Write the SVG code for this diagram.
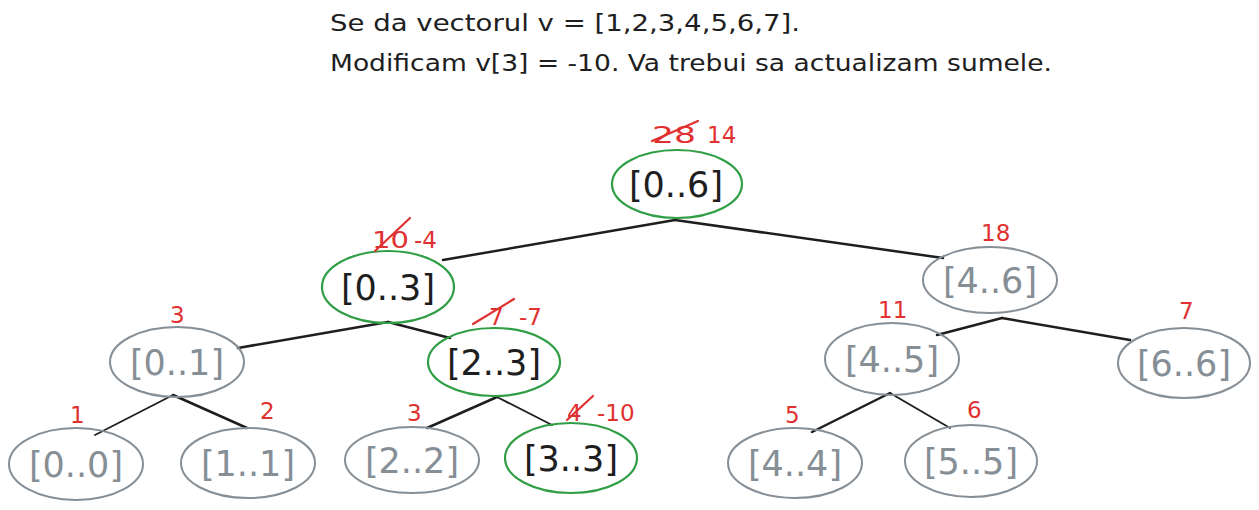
<svg xmlns="http://www.w3.org/2000/svg" width="1259" height="510" viewBox="0 0 1259 510">
<style>
.bg{fill:#ffffff}
.title{font-family:"DejaVu Sans",Verdana,sans-serif;font-size:23px;fill:#1e1e1e}
.ng ellipse{fill:none;stroke:#2f9e44;stroke-width:2.2}
.ny ellipse{fill:none;stroke:#868e96;stroke-width:2}
.lbl{font-family:"DejaVu Sans",Verdana,sans-serif;font-size:35px;text-anchor:middle}
.ng .lbl{fill:#1e1e1e}
.ny .lbl{fill:#868e96}
.num{font-family:"DejaVu Sans",Verdana,sans-serif;font-size:23px;fill:#e03131}
.strike{stroke:#e03131;stroke-width:2.2;stroke-linecap:round;fill:none}
.edge{stroke:#1e1e1e;stroke-width:2.5;stroke-linecap:round;fill:none}
.thin{stroke-width:1.8}
</style>
<rect class="bg" x="0" y="0" width="1259" height="510"/>
<text class="title" x="330" y="31" textLength="470" lengthAdjust="spacingAndGlyphs">Se da vectorul v = [1,2,3,4,5,6,7].</text>
<text class="title" x="330" y="71" textLength="722" lengthAdjust="spacingAndGlyphs">Modificam v[3] = -10. Va trebui sa actualizam sumele.</text>
<g id="connectors">
<path class="edge" d="M675 220 L443 260"/>
<path class="edge" d="M675 220 L943 258"/>
<path class="edge" d="M388 322 L238 348"/>
<path class="edge" d="M388 322 L450 338"/>
<path class="edge thin" d="M173 395 L95 435"/>
<path class="edge" d="M173 395 L247 428"/>
<path class="edge" d="M497 397 L427 428"/>
<path class="edge thin" d="M497 397 L552 425"/>
<path class="edge" d="M1002 318 L937 335"/>
<path class="edge" d="M1002 318 L1130 340"/>
<path class="edge" d="M890 393 L812 432"/>
<path class="edge thin" d="M890 393 L950 428"/>
</g>
<g id="n06" class="ng"><ellipse cx="677" cy="184" rx="65" ry="34"/><text class="lbl" x="676" y="197">[0..6]</text>
<text class="num" x="652" y="143" textLength="44" lengthAdjust="spacingAndGlyphs">28</text><path class="strike" d="M652 141 L698 121"/><text class="num" x="707" y="143">14</text></g>
<g id="n03" class="ng"><ellipse cx="388" cy="287" rx="66" ry="36"/><text class="lbl" x="388" y="300">[0..3]</text>
<text class="num" x="372" y="248" textLength="37" lengthAdjust="spacingAndGlyphs">10</text><path class="strike" d="M375 251 L410 218"/><text class="num" x="414" y="248">-4</text></g>
<g id="n46" class="ny"><ellipse cx="990" cy="280" rx="67" ry="33"/><text class="lbl" x="990" y="293">[4..6]</text>
<text class="num" x="981" y="241">18</text></g>
<g id="n01" class="ny"><ellipse cx="177" cy="362" rx="67" ry="35"/><text class="lbl" x="177" y="375">[0..1]</text>
<text class="num" x="170" y="323">3</text></g>
<g id="n23" class="ng"><ellipse cx="494" cy="362" rx="66" ry="34"/><text class="lbl" x="494" y="375">[2..3]</text>
<text class="num" x="489" y="325">7</text><path class="strike" d="M473 324 L514 299"/><text class="num" x="519" y="325">-7</text></g>
<g id="n45" class="ny"><ellipse cx="892" cy="359" rx="67" ry="36"/><text class="lbl" x="892" y="372">[4..5]</text>
<text class="num" x="878" y="318">11</text></g>
<g id="n66" class="ny"><ellipse cx="1184" cy="363" rx="66" ry="35"/><text class="lbl" x="1184" y="376">[6..6]</text>
<text class="num" x="1179" y="319">7</text></g>
<g id="n00" class="ny"><ellipse cx="76" cy="464" rx="67" ry="36"/><text class="lbl" x="76" y="477">[0..0]</text>
<text class="num" x="70" y="423">1</text></g>
<g id="n11" class="ny"><ellipse cx="248" cy="463" rx="67" ry="35"/><text class="lbl" x="248" y="476">[1..1]</text>
<text class="num" x="260" y="419">2</text></g>
<g id="n22" class="ny"><ellipse cx="412" cy="460" rx="67" ry="33"/><text class="lbl" x="412" y="473">[2..2]</text>
<text class="num" x="407" y="421">3</text></g>
<g id="n33" class="ng"><ellipse cx="571" cy="458" rx="66" ry="35"/><text class="lbl" x="571" y="471">[3..3]</text>
<text class="num" x="567" y="421">4</text><path class="strike" d="M567 420 L593 396"/><text class="num" x="597" y="421">-10</text></g>
<g id="n44" class="ny"><ellipse cx="795" cy="463" rx="67" ry="35"/><text class="lbl" x="795" y="476">[4..4]</text>
<text class="num" x="785" y="423">5</text></g>
<g id="n55" class="ny"><ellipse cx="971" cy="461" rx="66" ry="36"/><text class="lbl" x="971" y="474">[5..5]</text>
<text class="num" x="967" y="418">6</text></g>
</svg>
